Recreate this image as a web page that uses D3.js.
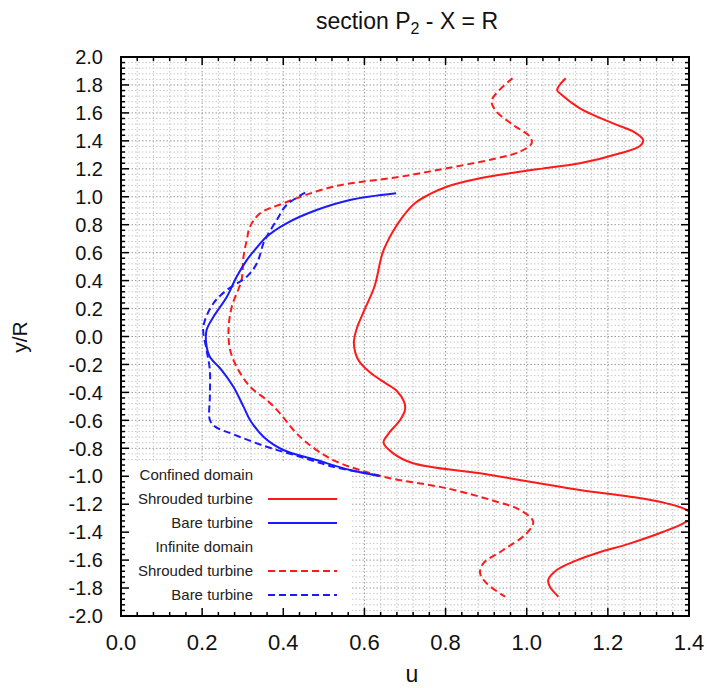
<!DOCTYPE html>
<html><head><meta charset="utf-8">
<script src="https://cdn.jsdelivr.net/npm/d3@7"></script>
<style>body{margin:0;background:#fff}svg{display:block}text{font-family:"Liberation Sans",Arial,sans-serif}</style>
</head><body><div id="c"></div>
<script>
// u values (x) and y/R values (y)
const confinedShroudedU = [1.096,1.075,1.086,1.131,1.213,1.263,1.287,1.279,1.230,1.131,1.041,0.967,0.885,0.803,0.762,0.725,0.695,0.668,0.645,0.625,0.600,0.580,0.574,0.585,0.615,0.650,0.680,0.698,0.700,0.688,0.660,0.647,0.671,0.720,0.885,1.008,1.131,1.255,1.345,1.394,1.410,1.386,1.337,1.255,1.172,1.115,1.074,1.053,1.057,1.078];
const confinedShroudedY = [1.848,1.764,1.730,1.633,1.525,1.466,1.406,1.363,1.311,1.239,1.203,1.172,1.132,1.072,1.020,0.955,0.860,0.740,0.600,0.360,0.190,0.047,-0.049,-0.168,-0.260,-0.330,-0.390,-0.470,-0.526,-0.597,-0.693,-0.760,-0.836,-0.907,-0.979,-1.039,-1.098,-1.146,-1.194,-1.241,-1.290,-1.337,-1.397,-1.480,-1.551,-1.611,-1.671,-1.742,-1.790,-1.862];

const infiniteShroudedU = [0.965,0.914,0.922,0.967,1.008,1.012,0.983,0.926,0.803,0.688,0.523,0.400,0.343,0.318,0.310,0.302,0.297,0.273,0.265,0.269,0.285,0.318,0.359,0.392,0.425,0.458,0.523,0.647,0.803,0.926,0.983,1.016,1.000,0.942,0.893,0.885,0.901,0.947];
const infiniteShroudedY = [1.848,1.692,1.621,1.513,1.430,1.382,1.322,1.275,1.204,1.143,1.072,0.953,0.882,0.786,0.690,0.571,0.404,0.213,0.047,-0.097,-0.216,-0.359,-0.454,-0.550,-0.669,-0.760,-0.884,-1.003,-1.086,-1.182,-1.241,-1.325,-1.408,-1.528,-1.623,-1.694,-1.766,-1.862];

const confinedBareU = [0.678,0.564,0.482,0.408,0.359,0.330,0.310,0.285,0.261,0.228,0.211,0.210,0.219,0.248,0.277,0.302,0.318,0.351,0.400,0.482,0.564,0.638];
const confinedBareY = [1.025,0.977,0.905,0.810,0.714,0.620,0.547,0.428,0.285,0.142,0.047,-0.049,-0.145,-0.240,-0.359,-0.502,-0.597,-0.717,-0.812,-0.884,-0.955,-0.998];

const infiniteBareU = [0.454,0.408,0.384,0.359,0.351,0.335,0.310,0.261,0.228,0.203,0.211,0.219,0.219,0.219,0.232,0.277,0.359,0.441,0.523,0.606,0.640];
const infiniteBareY = [1.029,0.941,0.834,0.714,0.667,0.524,0.428,0.333,0.238,0.070,-0.097,-0.240,-0.431,-0.597,-0.645,-0.700,-0.789,-0.860,-0.932,-0.979,-1.000];

const xTicks = [0.0,0.2,0.4,0.6,0.8,1.0,1.2,1.4];
const yTicks = [2.0,1.8,1.6,1.4,1.2,1.0,0.8,0.6,0.4,0.2,0.0,-0.2,-0.4,-0.6,-0.8,-1.0,-1.2,-1.4,-1.6,-1.8,-2.0];
const legendLabels = ["Confined domain","Shrouded turbine","Bare turbine","Infinite domain","Shrouded turbine","Bare turbine"];

const W=707,H=688;
const L=121,R=689,T=57,B=616;
const svg=d3.select("#c").append("svg").attr("width",W).attr("height",H);
const x=d3.scaleLinear().domain([0,1.4]).range([L,R]);
const y=d3.scaleLinear().domain([-2,2]).range([B,T]);

// grid
const minorX=d3.range(0,1.4001,0.04), minorY=d3.range(-2,2.0001,0.04);
const g=svg.append("g");
g.selectAll(".gx").data(minorX).join("line").attr("x1",d=>x(d)).attr("x2",d=>x(d)).attr("y1",T).attr("y2",B)
 .attr("stroke",(d,i)=>i%5===0?"#999":"#c8c8c8").attr("stroke-width",1).attr("stroke-dasharray","1.5,2");
g.selectAll(".gy").data(minorY).join("line").attr("y1",d=>y(d)).attr("y2",d=>y(d)).attr("x1",L).attr("x2",R)
 .attr("stroke",(d,i)=>i%5===0?"#999":"#c8c8c8").attr("stroke-width",1).attr("stroke-dasharray","1.5,2");

// legend background (under the curves)
svg.append("rect").attr("x",L+1).attr("y",462).attr("width",228).attr("height",B-462-1).attr("fill","#fff");

// clip
svg.append("clipPath").attr("id","clip").append("rect").attr("x",L).attr("y",T).attr("width",R-L).attr("height",B-T);

const line=d3.line().x(d=>x(d[0])).y(d=>y(d[1])).curve(d3.curveCatmullRom.alpha(0.5));
const series=[
 {u:confinedShroudedU,v:confinedShroudedY,c:"#ff1a1a",dash:null},
 {u:infiniteShroudedU,v:infiniteShroudedY,c:"#ff1a1a",dash:"7,4"},
 {u:confinedBareU,v:confinedBareY,c:"#1a1aff",dash:null},
 {u:infiniteBareU,v:infiniteBareY,c:"#1a1aff",dash:"7,4"}
];
const pg=svg.append("g").attr("clip-path","url(#clip)");
series.forEach(s=>{
 pg.append("path").datum(s.u.map((u,i)=>[u,s.v[i]])).attr("d",line).attr("fill","none")
  .attr("stroke",s.c).attr("stroke-width",2).attr("stroke-dasharray",s.dash);
});

// legend
const lg=svg.append("g");
const legStyle=[null,{c:"#ff1a1a",d:null},{c:"#1a1aff",d:null},null,{c:"#ff1a1a",d:"7,4"},{c:"#1a1aff",d:"7,4"}];
legendLabels.forEach((t,i)=>{
 const yy=475+i*24;
 lg.append("text").attr("x",253).attr("y",yy).attr("dy","0.35em").attr("text-anchor","end")
  .attr("font-size",15).attr("fill","#222").text(t);
 if(legStyle[i]) lg.append("line").attr("x1",268).attr("x2",337).attr("y1",yy).attr("y2",yy)
  .attr("stroke",legStyle[i].c).attr("stroke-width",2).attr("stroke-dasharray",legStyle[i].d);
});

// ticks on all four sides
const tk=svg.append("g").attr("stroke","#000");
minorX.forEach((d,i)=>{
 const len=i%5===0?8:4;
 tk.append("line").attr("x1",x(d)).attr("x2",x(d)).attr("y1",B).attr("y2",B-len).attr("stroke-width",1.5);
 tk.append("line").attr("x1",x(d)).attr("x2",x(d)).attr("y1",T).attr("y2",T+len).attr("stroke-width",1.5);
});
minorY.forEach((d,i)=>{
 const len=i%5===0?8:4;
 tk.append("line").attr("y1",y(d)).attr("y2",y(d)).attr("x1",L).attr("x2",L+len).attr("stroke-width",1.5);
 tk.append("line").attr("y1",y(d)).attr("y2",y(d)).attr("x1",R).attr("x2",R-len).attr("stroke-width",1.5);
});
svg.append("rect").attr("x",L).attr("y",T).attr("width",R-L).attr("height",B-T).attr("fill","none").attr("stroke","#000").attr("stroke-width",2);

// tick labels
svg.append("g").selectAll("text").data(xTicks).join("text").attr("x",d=>x(d)).attr("y",650)
 .attr("text-anchor","middle").attr("font-size",22).attr("fill","#111").text(d=>d.toFixed(1));
svg.append("g").selectAll("text").data(yTicks).join("text").attr("x",103).attr("y",d=>y(d)).attr("dy","0.36em")
 .attr("text-anchor","end").attr("font-size",20).attr("fill","#111").text(d=>d.toFixed(1));

// axis titles
svg.append("text").attr("x",412).attr("y",682).attr("text-anchor","middle").attr("font-size",23).attr("fill","#111").text("u");
svg.append("text").attr("transform","translate(27,337) rotate(-90)").attr("text-anchor","middle").attr("font-size",21).attr("fill","#111").text("y/R");
const tt=svg.append("text").attr("x",407).attr("y",29).attr("text-anchor","middle").attr("font-size",23).attr("fill","#111");
tt.append("tspan").text("section P");
tt.append("tspan").attr("font-size",16).attr("dy",5).text("2");
tt.append("tspan").attr("dy",-5).text(" - X = R");
</script></body></html>
